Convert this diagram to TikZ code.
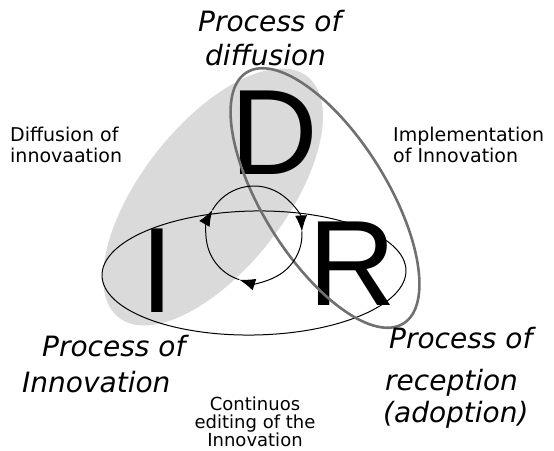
\documentclass[tikz,border=0pt]{standalone}
\usepackage{fontspec}
\setmainfont{DejaVu Sans}
\newfontfamily\letterfont{Liberation Sans}
\usetikzlibrary{arrows.meta}
\definecolor{fillgray}{HTML}{DADADA}
\definecolor{rimgray}{HTML}{707070}
\tikzset{
  bigletter/.style={inner sep=0pt, anchor=base west, font=\letterfont\fontsize{121.5}{121.5}\selectfont},
  smalltxt/.style={inner sep=0pt, anchor=base west, font=\fontsize{19}{21}\selectfont},
  midtxt/.style={inner sep=0pt, anchor=base, font=\fontsize{18}{20}\selectfont},
  bigtxt/.style={inner sep=0pt, anchor=base west, font=\itshape\fontsize{28}{30}\selectfont},
  cyclearc/.style={line width=1pt, -{Latex[length=16pt,width=12pt]}},
}
\begin{document}
\begin{tikzpicture}[x=1pt,y=1pt]
\useasboundingbox (0,0) rectangle (554,450);
% gray filled ellipse (diffusion)
\fill[fillgray] (213,253) ellipse[x radius=153, y radius=72, rotate=52];
% big letters
\node[bigletter] (D) at (230.4,275) {D};
\node[bigletter] (I) at (140,137) {I};
\node[bigletter] (R) at (308,144) {R};
% black ellipse (innovation)
\draw[line width=1pt] (254,177) ellipse[x radius=152, y radius=62, rotate=1];
% dark gray ellipse (reception)
\draw[rimgray, line width=2.6pt] (325,252) ellipse[x radius=148, y radius=62, rotate=-58];
% cycle circle
\coordinate (C) at (254,216);
\draw[cyclearc] ([shift={(252:48)}]C) arc[start angle=252, end angle=150, radius=48];
\draw[cyclearc] ([shift={(150:48)}]C) arc[start angle=150, end angle=3, radius=48];
\draw[cyclearc] ([shift={(3:48)}]C) arc[start angle=3, end angle=-108, radius=48];
% texts
\node[bigtxt] (pd1) at (198,418) {Process of};
\node[bigtxt] (pd2) at (205,384) {diffusion};
\node[smalltxt] (di1) at (10,308) {Diffusion of};
\node[smalltxt] (di2) at (10,287) {innovaation};
\node[smalltxt] (im1) at (393,308) {Implementation};
\node[smalltxt] (im2) at (393,287) {of Innovation};
\node[bigtxt] (pi1) at (42,93) {Process of};
\node[bigtxt] (pi2) at (22,58) {Innovation};
\node[bigtxt] (pr1) at (389,102) {Process of};
\node[bigtxt] (pr2) at (385,60) {reception};
\node[bigtxt] (pr3) at (383,28) {(adoption)};
\node[midtxt] (ce1) at (255,40) {Continuos};
\node[midtxt] (ce2) at (255,22) {editing of the};
\node[midtxt] (ce3) at (255,4) {Innovation};
\end{tikzpicture}
\end{document}
